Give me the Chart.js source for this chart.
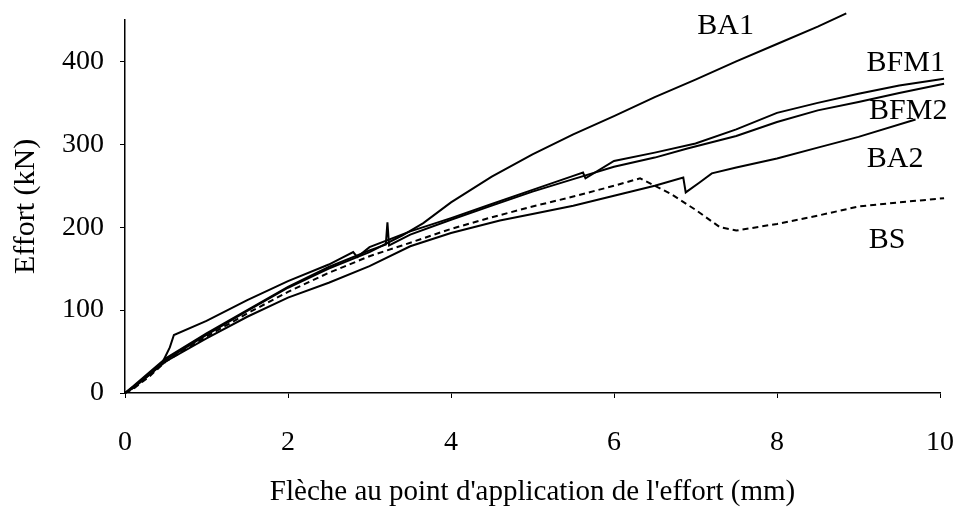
<!DOCTYPE html>
<html>
<head>
<meta charset="utf-8">
<script src="https://cdn.jsdelivr.net/npm/chart.js@4/dist/chart.umd.min.js"></script>
<style>
  html, body { margin: 0; padding: 0; background: #fff; }
  #wrap { width: 957px; height: 522px; }
</style>
</head>
<body>
<div id="wrap"><canvas id="loadChart"></canvas></div>
<script>
// ===== MEASURED CURVES (flèche mm -> effort kN) =====
const ba1 = [
  [0, 0], [0.1, 6], [0.3, 22], [0.5, 40], [1, 70], [1.5, 99], [2, 127], [2.5, 150],
  [3, 170], [3.4, 190], [3.66, 205], [4, 230], [4.5, 261], [5, 288], [5.5, 312],
  [6, 334], [6.5, 357], [7, 378], [7.5, 400], [8, 421], [8.5, 442], [8.85, 458]
];
const bfm1 = [
  [0, 0], [0.2, 15], [0.45, 35], [0.55, 55], [0.6, 70], [1, 87], [1.5, 112], [2, 135],
  [2.5, 155], [2.8, 170], [2.85, 164], [3, 176], [3.5, 195], [4, 211], [4.5, 228],
  [5, 245], [5.5, 262], [5.62, 266], [5.65, 259], [6, 280], [6.5, 290], [7, 301],
  [7.5, 318], [8, 338], [8.5, 350], [9, 361], [9.5, 371], [10.05, 379]
];
const bfm2 = [
  [0, 0], [0.1, 8], [0.3, 25], [0.5, 42], [1, 72], [1.5, 100], [2, 128], [2.5, 152],
  [3, 172], [3.2, 179], [3.22, 206], [3.24, 178], [3.5, 191], [4, 209], [4.5, 226],
  [5, 243], [5.5, 258], [6, 273], [6.5, 284], [6.9, 295], [7.5, 310], [8, 327],
  [8.5, 341], [9, 351], [9.5, 362], [10.05, 373]
];
const ba2 = [
  [0, 0], [0.1, 6], [0.3, 22], [0.5, 38], [1, 66], [1.5, 92], [2, 115], [2.5, 133],
  [3, 153], [3.5, 177], [4, 193], [4.6, 208], [5, 216], [5.5, 226], [6, 238],
  [6.5, 250], [6.85, 260], [6.88, 242], [7.05, 254], [7.2, 265], [7.5, 272],
  [8, 283], [8.5, 296], [9, 309], [9.7, 330]
];
const bs = [
  [0, 0], [0.1, 5], [0.3, 20], [0.5, 38], [1, 68], [1.5, 96], [2, 122], [2.5, 145],
  [3, 165], [3.4, 178], [4, 198], [4.5, 212], [5, 225], [5.5, 237], [6, 250],
  [6.32, 259], [6.5, 250], [6.7, 240], [7, 221], [7.3, 200], [7.5, 196], [8, 204],
  [8.5, 214], [9, 225], [9.5, 230], [10.05, 235]
];

// curve names and where their tags sit (mm, kN)
const curveNames = ['BA1', 'BFM1', 'BFM2', 'BA2', 'BS'];
const tagX = [7.37, 9.58, 9.61, 9.45, 9.35];
const tagY = [443, 398, 340, 282, 184];

const xTicks = [0, 2, 4, 6, 8, 10];
const yTicks = [0, 100, 200, 300, 400];

const serif = "'Liberation Serif', 'DejaVu Serif', serif";

function toPoints(arr) {
  return arr.map(p => ({ x: p[0], y: p[1] }));
}

function curve(label, arr, dash) {
  return {
    label: label,
    data: toPoints(arr),
    borderColor: '#000',
    borderWidth: 2,
    borderDash: dash || [],
    pointRadius: 0,
    tension: 0,
    fill: false,
    clip: false
  };
}

// ===== CURVE TAGS =====
const curveTags = {
  id: 'curveTags',
  afterDatasetsDraw(chart) {
    const { ctx, scales } = chart;
    ctx.save();
    ctx.fillStyle = '#000';
    ctx.font = '30px ' + serif;
    ctx.textAlign = 'center';
    ctx.textBaseline = 'middle';
    curveNames.forEach((name, i) => {
      ctx.fillText(name, scales.x.getPixelForValue(tagX[i]), scales.y.getPixelForValue(tagY[i]));
    });
    ctx.restore();
  }
};

new Chart(document.getElementById('loadChart'), {
  type: 'line',
  data: {
    datasets: [
      curve('BA1', ba1),
      curve('BFM1', bfm1),
      curve('BFM2', bfm2),
      curve('BA2', ba2),
      curve('BS', bs, [6, 4])
    ]
  },
  options: {
    responsive: true,
    maintainAspectRatio: false,
    animation: false,
    layout: { padding: { top: 20, right: 17, left: 0, bottom: 0 } },
    plugins: {
      legend: { display: false },
      tooltip: { enabled: false }
    },
    scales: {
      x: {
        type: 'linear',
        min: 0,
        max: 10,
        afterBuildTicks: axis => { axis.ticks = xTicks.map(v => ({ value: v })); },
        afterFit: axis => {
          axis.height = 129;
          axis.paddingLeft = 0;
          axis.paddingRight = 0;
        },
        border: { color: '#000', width: 1.5 },
        grid: { drawOnChartArea: false, color: '#000', tickLength: 5 },
        ticks: {
          color: '#000',
          padding: 28,
          maxRotation: 0,
          font: { family: serif, size: 28 }
        },
        title: {
          display: true,
          text: "Flèche au point d'application de l'effort (mm)",
          color: '#000',
          padding: { bottom: 12 },
          font: { family: serif, size: 29 }
        }
      },
      y: {
        min: 0,
        max: 450,
        afterBuildTicks: axis => { axis.ticks = yTicks.map(v => ({ value: v })); },
        afterFit: axis => {
          axis.width = 125;
          axis.paddingTop = 0;
          axis.paddingBottom = 0;
        },
        border: { color: '#000', width: 1.5 },
        grid: { drawOnChartArea: false, color: '#000', tickLength: 5 },
        ticks: {
          color: '#000',
          padding: 16,
          font: { family: serif, size: 28 }
        },
        title: {
          display: true,
          text: 'Effort (kN)',
          color: '#000',
          padding: { top: 8 },
          font: { family: serif, size: 30 }
        }
      }
    }
  },
  plugins: [curveTags]
});
</script>
</body>
</html>
